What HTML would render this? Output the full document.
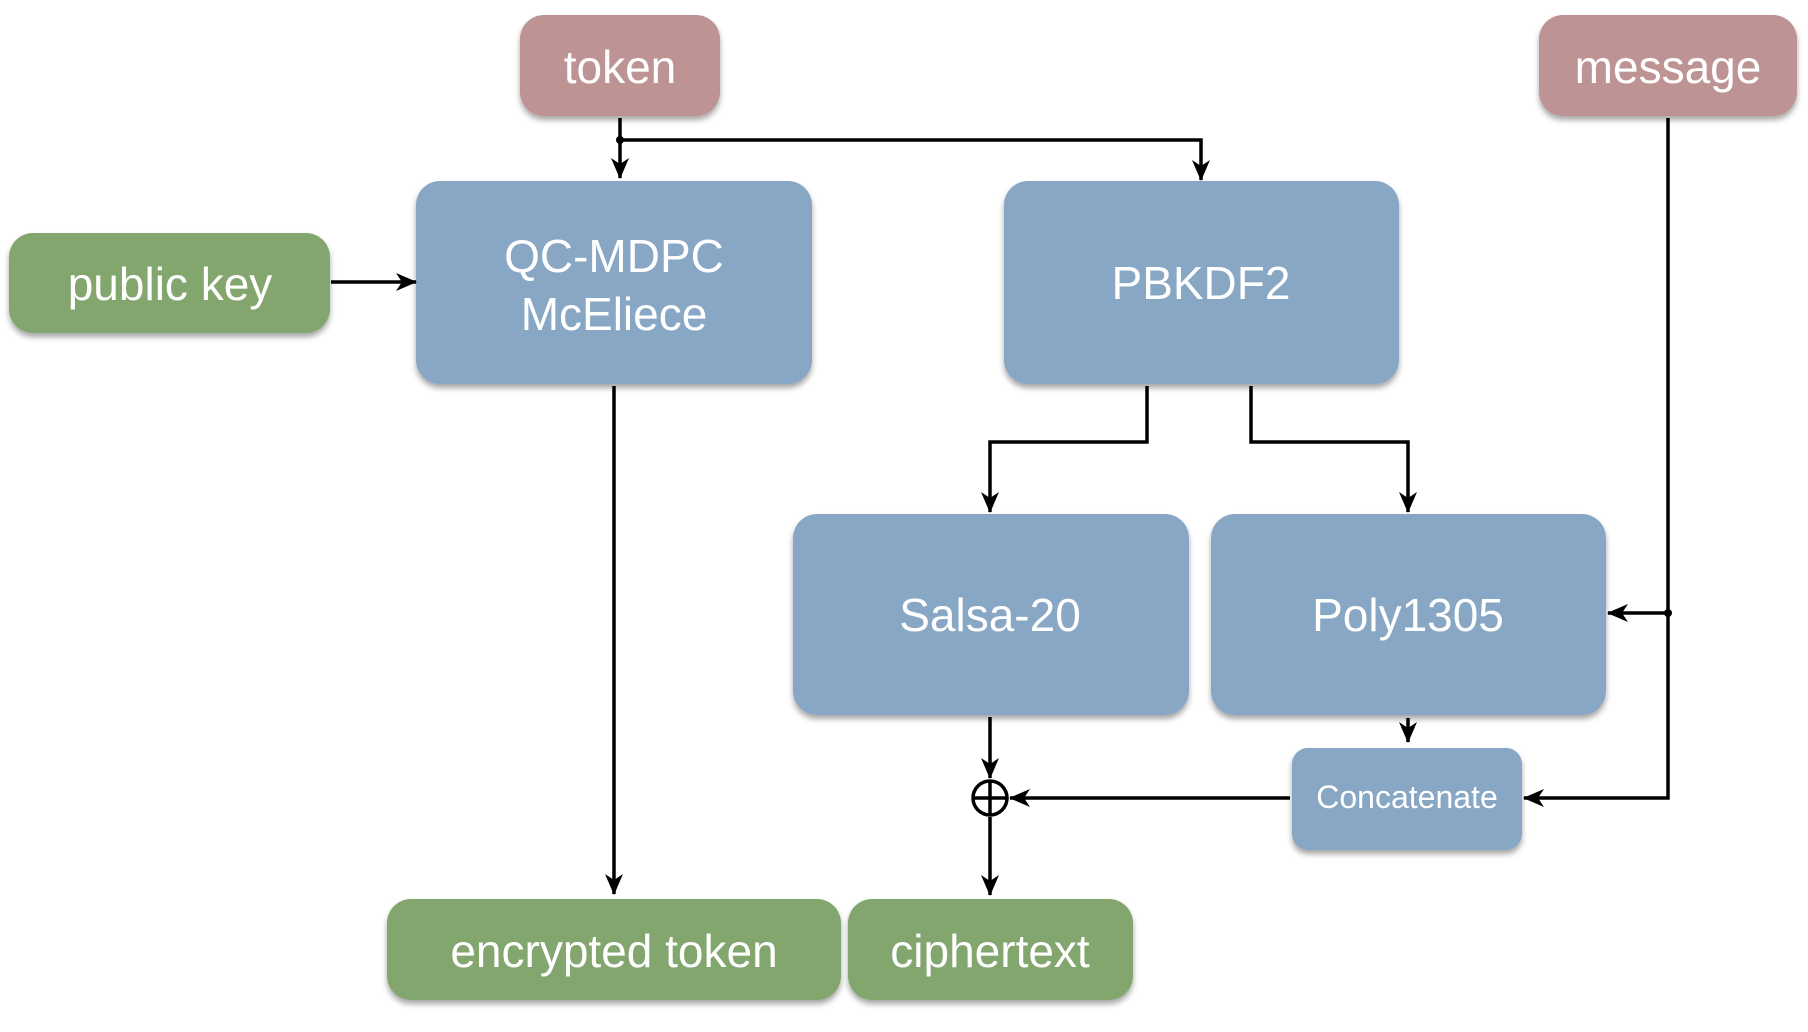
<!DOCTYPE html>
<html><head><meta charset="utf-8"><style>
html,body{margin:0;padding:0;background:#fff}
svg{display:block}
text{font-family:"Liberation Sans",sans-serif;fill:#fff;text-anchor:middle;dominant-baseline:central}
</style></head><body>
<svg width="1808" height="1032" viewBox="0 0 1808 1032" xmlns="http://www.w3.org/2000/svg">
<defs>
<filter id="sh" x="-10%" y="-10%" width="120%" height="130%"><feDropShadow dx="0" dy="4" stdDeviation="3" flood-color="#000" flood-opacity="0.35"/></filter>
<marker id="ar" markerWidth="22" markerHeight="20" refX="20" refY="10" orient="auto" markerUnits="userSpaceOnUse"><path d="M0,1 L21,10 L0,19 L6,10 Z" fill="#000"/></marker>
</defs>
<g filter="url(#sh)">
<rect x="520" y="15" width="200" height="101" rx="24" fill="#BD9393"/>
<rect x="1539" y="15" width="258" height="101" rx="24" fill="#BD9393"/>
<rect x="9" y="233" width="321" height="100" rx="24" fill="#82A66E"/>
<rect x="416" y="181" width="396" height="203" rx="24" fill="#88A7C4"/>
<rect x="1004" y="181" width="395" height="203" rx="24" fill="#88A7C4"/>
<rect x="793" y="514" width="396" height="201" rx="24" fill="#88A7C4"/>
<rect x="1211" y="514" width="395" height="201" rx="24" fill="#88A7C4"/>
<rect x="1292" y="748" width="230" height="102" rx="16" fill="#88A7C4"/>
<rect x="387" y="899" width="454" height="101" rx="24" fill="#82A66E"/>
<rect x="848" y="899" width="285" height="101" rx="24" fill="#82A66E"/>
</g>
<text x="620" y="67" font-size="46">token</text>
<text x="1668" y="67" font-size="46">message</text>
<text x="170" y="284" font-size="46">public key</text>
<text x="614" y="256" font-size="46">QC-MDPC</text>
<text x="614" y="314" font-size="46">McEliece</text>
<text x="1201" y="283" font-size="46">PBKDF2</text>
<text x="990" y="615" font-size="46">Salsa-20</text>
<text x="1408" y="615" font-size="46">Poly1305</text>
<text x="1407" y="797" font-size="32">Concatenate</text>
<text x="614" y="951" font-size="46">encrypted token</text>
<text x="990" y="951" font-size="46">ciphertext</text>
<g stroke="#000" stroke-width="3.5" fill="none">
<path d="M620,118 L620,178" marker-end="url(#ar)"/>
<path d="M620,140 L1201,140 L1201,180" marker-end="url(#ar)"/>
<path d="M331,282 L416,282" marker-end="url(#ar)"/>
<path d="M614,386 L614,894" marker-end="url(#ar)"/>
<path d="M1147,386 L1147,442 L990,442 L990,512" marker-end="url(#ar)"/>
<path d="M1251,386 L1251,442 L1408,442 L1408,512" marker-end="url(#ar)"/>
<path d="M1668,118 L1668,798 L1524,798" marker-end="url(#ar)"/>
<path d="M1668,613 L1608,613" marker-end="url(#ar)"/>
<path d="M1408,718 L1408,742" marker-end="url(#ar)"/>
<path d="M990,717 L990,778" marker-end="url(#ar)"/>
<path d="M1290,798 L1010,798" marker-end="url(#ar)"/>
<path d="M990,817 L990,895" marker-end="url(#ar)"/>
<circle cx="990" cy="798" r="17"/>
<path d="M973,798 L1007,798 M990,781 L990,815"/>
</g>
<circle cx="620" cy="140" r="4" fill="#000"/>
<circle cx="1668" cy="613" r="4" fill="#000"/>
</svg>
</body></html>
